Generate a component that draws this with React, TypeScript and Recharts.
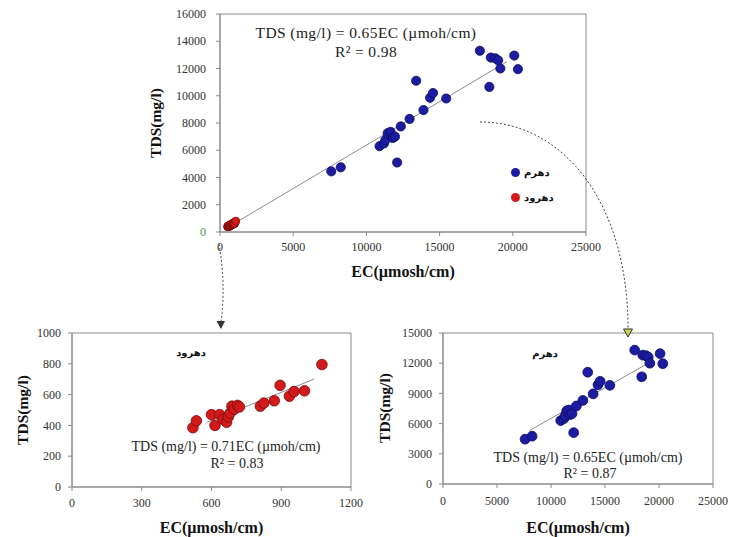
import React from "react";
import {
  ScatterChart,
  Scatter,
  XAxis,
  YAxis,
  ReferenceLine,
  ReferenceArea,
  Legend,
} from "recharts";

const W = 731;
const H = 537;
const SERIF = "'Liberation Serif', 'Times New Roman', serif";
const ARABIC = "'DejaVu Sans', sans-serif";
const BLUE = "#1c1ca0";
const BLUE_EDGE = "#0c0c66";
const RED = "#d21a1a";
const RED_EDGE = "#7a0b0b";
const AXIS = "#8a8a8a";

// دهرم samples (EC µmosh/cm, TDS mg/l)
const dehramEC = [
  7600, 8250, 10900, 11200, 11300, 11450, 11650, 11800, 11950, 12100, 12350, 12950, 13400,
  13900, 14350, 14550, 15450, 17750, 18400, 18500, 18800, 19000, 19150, 20100, 20350,
];
const dehramTDS = [
  4450, 4750, 6300, 6500, 6750, 7250, 7350, 6900, 7000, 5100, 7750, 8300, 11100, 8950, 9850,
  10200, 9800, 13300, 10650, 12800, 12750, 12600, 12000, 12950, 11950,
];

// دهرود samples
const dehrudEC = [
  520, 535, 600, 615, 635, 650, 665, 672, 680, 688, 698, 712, 720, 810, 825, 870, 895, 935, 955,
  1000, 1075,
];
const dehrudTDS = [
  385, 430, 470, 400, 470, 440, 420, 455, 480, 525, 505, 530, 520, 525, 545, 560, 660, 590, 620,
  625, 795,
];

// fitted lines
const trendAllEC = [450, 19600];
const trendAllTDS = [290, 12500];
const trendDehrudEC = [580, 1040];
const trendDehrudTDS = [420, 700];
const trendDehramEC = [8000, 19500];
const trendDehramTDS = [5300, 12300];

const ecTicksBig = [0, 5000, 10000, 15000, 20000, 25000];
const tdsTicksTop = [0, 2000, 4000, 6000, 8000, 10000, 12000, 14000, 16000];
const ecTicksSmall = [0, 300, 600, 900, 1200];
const tdsTicksSmall = [0, 200, 400, 600, 800, 1000];
const tdsTicksDehram = [0, 3000, 6000, 9000, 12000, 15000];

const dehram = dehramEC.map((ec, i) => ({ ec, tds: dehramTDS[i] }));
const dehrud = dehrudEC.map((ec, i) => ({ ec, tds: dehrudTDS[i] }));

const seg = (ec: number[], tds: number[]) => [
  { x: ec[0], y: tds[0] },
  { x: ec[1], y: tds[1] },
];

const dot = (fill: string, edge: string, r: number) => (p: any) =>
  <circle cx={p.cx} cy={p.cy} r={r} fill={fill} stroke={edge} strokeWidth={0.8} />;

const tickStyle = { fill: "#333", fontSize: 12, fontFamily: SERIF };

const xTitle = (text: string, dy: number) => (p: any) => {
  const vb = p.viewBox || {};
  return (
    <text
      x={vb.x + vb.width / 2}
      y={vb.y + dy}
      textAnchor="middle"
      fontFamily={SERIF}
      fontWeight="bold"
      fontSize={16}
      fill="#111"
    >
      {text}
    </text>
  );
};

const yTitle = (text: string, x: number, cy: number) => () => (
  <text
    x={x}
    y={cy}
    transform={`rotate(-90 ${x} ${cy})`}
    textAnchor="middle"
    dominantBaseline="central"
    fontFamily={SERIF}
    fontWeight="bold"
    fontSize={15.5}
    fill="#111"
  >
    {text}
  </text>
);

const yTickTop = (p: any) => (
  <text
    x={p.x}
    y={p.y}
    dy="0.35em"
    textAnchor="end"
    fontFamily={SERIF}
    fontSize={12}
    fill={p.payload.value === 0 ? "#3c9a5c" : "#333"}
  >
    {p.payload.value}
  </text>
);

// plot box -> chart margin, every chart uses the full page frame
const frame = (l: number, t: number, r: number, b: number, yw: number, xh: number) => ({
  left: l - yw,
  top: t,
  right: W - r,
  bottom: H - b - xh,
});

const layer: React.CSSProperties = { position: "absolute", left: 0, top: 0 };

function TopChart() {
  return (
    <div style={layer}>
      <ScatterChart width={W} height={H} margin={frame(220, 14, 586, 232, 50, 30)}>
        <XAxis
          type="number"
          dataKey="ec"
          domain={[0, 25000]}
          ticks={ecTicksBig}
          interval={0}
          height={30}
          tickSize={4}
          tickMargin={6}
          stroke={AXIS}
          tick={tickStyle}
          label={{ content: xTitle("EC(µmosh/cm)", 45) }}
        />
        <YAxis
          type="number"
          dataKey="tds"
          domain={[0, 16000]}
          ticks={tdsTicksTop}
          interval={0}
          width={50}
          tickSize={4}
          tickMargin={10}
          stroke={AXIS}
          tick={yTickTop}
          label={{ content: yTitle("TDS(mg/l)", 155, 123) }}
        />
        <ReferenceArea x1={0} x2={25000} y1={0} y2={16000} fill="none" stroke={AXIS} />
        <ReferenceLine segment={seg(trendAllEC, trendAllTDS)} stroke="#8c8c8c" strokeWidth={1} />
        <Scatter
          name="دهرم"
          data={dehram}
          fill={BLUE}
          legendType="circle"
          isAnimationActive={false}
          shape={dot(BLUE, BLUE_EDGE, 4.6)}
        />
        <Scatter
          name="دهرود"
          data={dehrud}
          fill={RED}
          legendType="circle"
          isAnimationActive={false}
          shape={dot(RED, RED_EDGE, 4)}
        />
        <Legend
          layout="vertical"
          align="center"
          verticalAlign="middle"
          iconType="circle"
          iconSize={9}
          wrapperStyle={{ left: 511, top: 159, width: 70, lineHeight: "23px" }}
          formatter={(v: any) => (
            <span style={{ color: "#111", fontFamily: ARABIC, fontSize: 10, fontWeight: "bold" }}>
              {v}
            </span>
          )}
        />
      </ScatterChart>
    </div>
  );
}

function DehrudChart() {
  return (
    <div style={layer}>
      <ScatterChart width={W} height={H} margin={frame(72, 333, 351, 487, 45, 30)}>
        <XAxis
          type="number"
          dataKey="ec"
          domain={[0, 1200]}
          ticks={ecTicksSmall}
          interval={0}
          height={30}
          tickSize={4}
          tickMargin={7}
          stroke={AXIS}
          tick={tickStyle}
          label={{ content: xTitle("EC(µmosh/cm)", 46) }}
        />
        <YAxis
          type="number"
          dataKey="tds"
          domain={[0, 1000]}
          ticks={tdsTicksSmall}
          interval={0}
          width={45}
          tickSize={4}
          tickMargin={7}
          stroke={AXIS}
          tick={tickStyle}
          label={{ content: yTitle("TDS(mg/l)", 22, 410) }}
        />
        <ReferenceArea x1={0} x2={1200} y1={0} y2={1000} fill="none" stroke={AXIS} />
        <ReferenceLine segment={seg(trendDehrudEC, trendDehrudTDS)} stroke="#8c8c8c" strokeWidth={1} />
        <Scatter
          name="دهرود"
          data={dehrud}
          fill={RED}
          isAnimationActive={false}
          shape={dot(RED, RED_EDGE, 5.3)}
        />
      </ScatterChart>
    </div>
  );
}

function DehramChart() {
  return (
    <div style={layer}>
      <ScatterChart width={W} height={H} margin={frame(443, 333, 713, 484, 50, 30)}>
        <XAxis
          type="number"
          dataKey="ec"
          domain={[0, 25000]}
          ticks={ecTicksBig}
          interval={0}
          height={30}
          tickSize={4}
          tickMargin={8}
          stroke={AXIS}
          tick={tickStyle}
          label={{ content: xTitle("EC(µmosh/cm)", 49) }}
        />
        <YAxis
          type="number"
          dataKey="tds"
          domain={[0, 15000]}
          ticks={tdsTicksDehram}
          interval={0}
          width={50}
          tickSize={4}
          tickMargin={7}
          stroke={AXIS}
          tick={tickStyle}
          label={{ content: yTitle("TDS(mg/l)", 384, 408) }}
        />
        <ReferenceArea x1={0} x2={25000} y1={0} y2={15000} fill="none" stroke={AXIS} />
        <ReferenceLine segment={seg(trendDehramEC, trendDehramTDS)} stroke="#8c8c8c" strokeWidth={1} />
        <Scatter
          name="دهرم"
          data={dehram}
          fill={BLUE}
          isAnimationActive={false}
          shape={dot(BLUE, BLUE_EDGE, 4.9)}
        />
      </ScatterChart>
    </div>
  );
}

function Notes() {
  const eqTop = { fontFamily: SERIF, fontSize: 15.5, fill: "#222", textAnchor: "middle" as const, letterSpacing: 0.4 };
  const eq = { fontFamily: SERIF, fontSize: 14, fill: "#222", textAnchor: "middle" as const };
  const title = { fontFamily: ARABIC, fontSize: 10, fontWeight: "bold", fill: "#111", textAnchor: "middle" as const };
  return (
    <svg width={W} height={H} style={{ ...layer, pointerEvents: "none" }}>
      <text x={366} y={38} {...eqTop}>TDS  (mg/l) = 0.65EC (µmoh/cm)</text>
      <text x={366} y={57} {...eqTop}>R² = 0.98</text>
      <text x={226} y={451} {...eq}>TDS (mg/l) = 0.71EC (µmoh/cm)</text>
      <text x={237} y={468} {...eq}>R² = 0.83</text>
      <text x={588} y={462} {...eq}>TDS (mg/l) = 0.65EC (µmoh/cm)</text>
      <text x={590} y={478} {...eq}>R² = 0.87</text>
      <text x={191} y={356} {...title}>دهرود</text>
      <text x={545} y={357} {...title}>دهرم</text>
      <path d="M 219 244 Q 226 285 221 322" fill="none" stroke="#444" strokeWidth={1} strokeDasharray="2 2" />
      <path d="M 216.5 321 L 225 321 L 221 329 Z" fill="#333" />
      <path d="M 480 122 C 565 122, 628 205, 628 328" fill="none" stroke="#444" strokeWidth={1} strokeDasharray="2 2" />
      <path d="M 623.5 329 L 632.5 329 L 628 337 Z" fill="#c9cc55" stroke="#333" strokeWidth={1} />
    </svg>
  );
}

export default function App() {
  return (
    <div style={{ position: "absolute", left: 0, top: 0, width: W, height: H, background: "#fff" }}>
      <TopChart />
      <DehrudChart />
      <DehramChart />
      <Notes />
    </div>
  );
}
